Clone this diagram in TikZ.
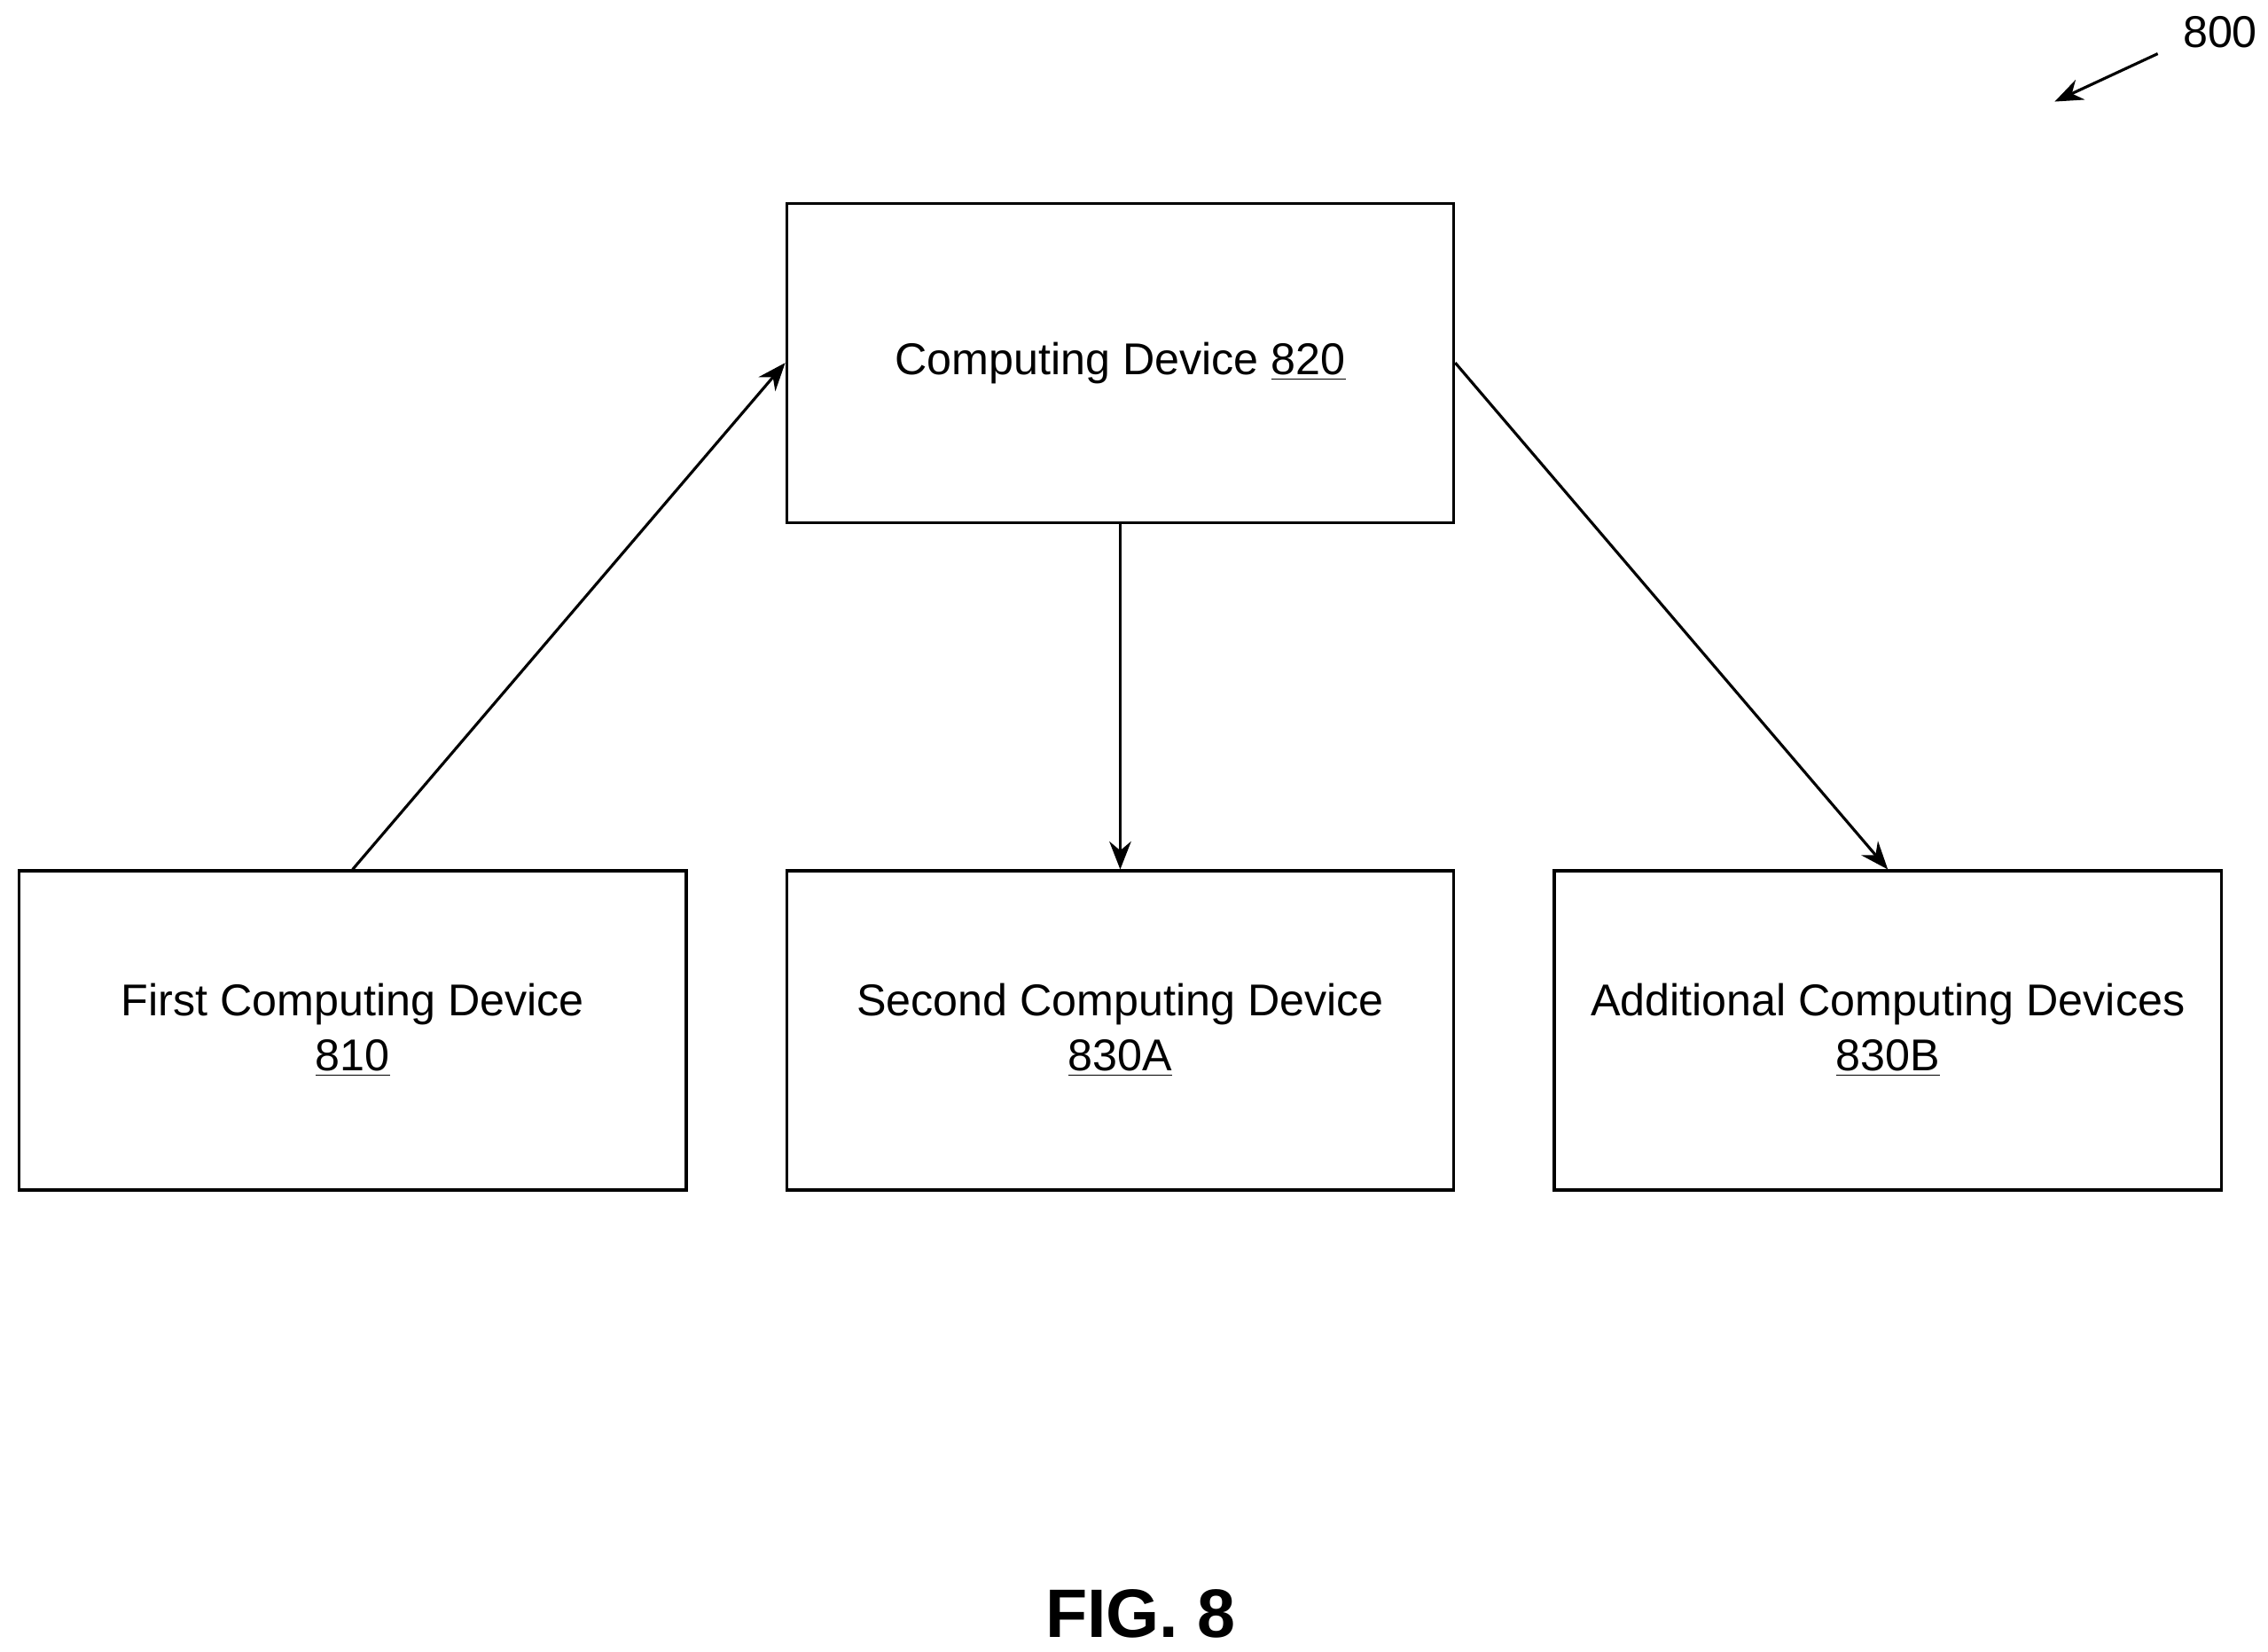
\documentclass[tikz,border=0pt]{standalone}
\usepackage{fontspec}
\setmainfont{Liberation Sans}
\usetikzlibrary{arrows.meta}
\begin{document}
\begin{tikzpicture}[x=0.016366cm, y=-0.016366cm,
    device/.style={draw=black, line width=0.9pt, shape=rectangle, minimum width=7.528cm, minimum height=3.6cm, align=center, font=\fontsize{14.3pt}{17.5pt}\selectfont},
    link/.style={line width=0.9pt, -{Stealth[length=9pt, width=7pt]}}]
    \useasboundingbox (0, 0) rectangle (1563, 1138);

    \node[device] (d820) at (772, 250) {Computing Device \underline{820}};
    \node[device] (d810) at (243, 710) {First Computing Device\\\underline{810}};
    \node[device] (d830a) at (772, 710) {Second Computing Device\\\underline{830A}};
    \node[device] (d830b) at (1301, 710) {Additional Computing Devices\\\underline{830B}};

    \draw [link] (d810.north) -- (d820.west);
    \draw [link] (d820.south) -- (d830a.north);
    \draw [link] (d820.east) -- (d830b.north);

    \node[font=\fontsize{14.3pt}{17pt}\selectfont] (n800) at (1530, 22) {800};
    \coordinate (t800) at (1416, 70);
    \draw [link] (1487, 37) -- (t800);

    \node[font=\bfseries\fontsize{22pt}{26pt}\selectfont] (fig) at (786, 1112) {FIG. 8};
\end{tikzpicture}
\end{document}
